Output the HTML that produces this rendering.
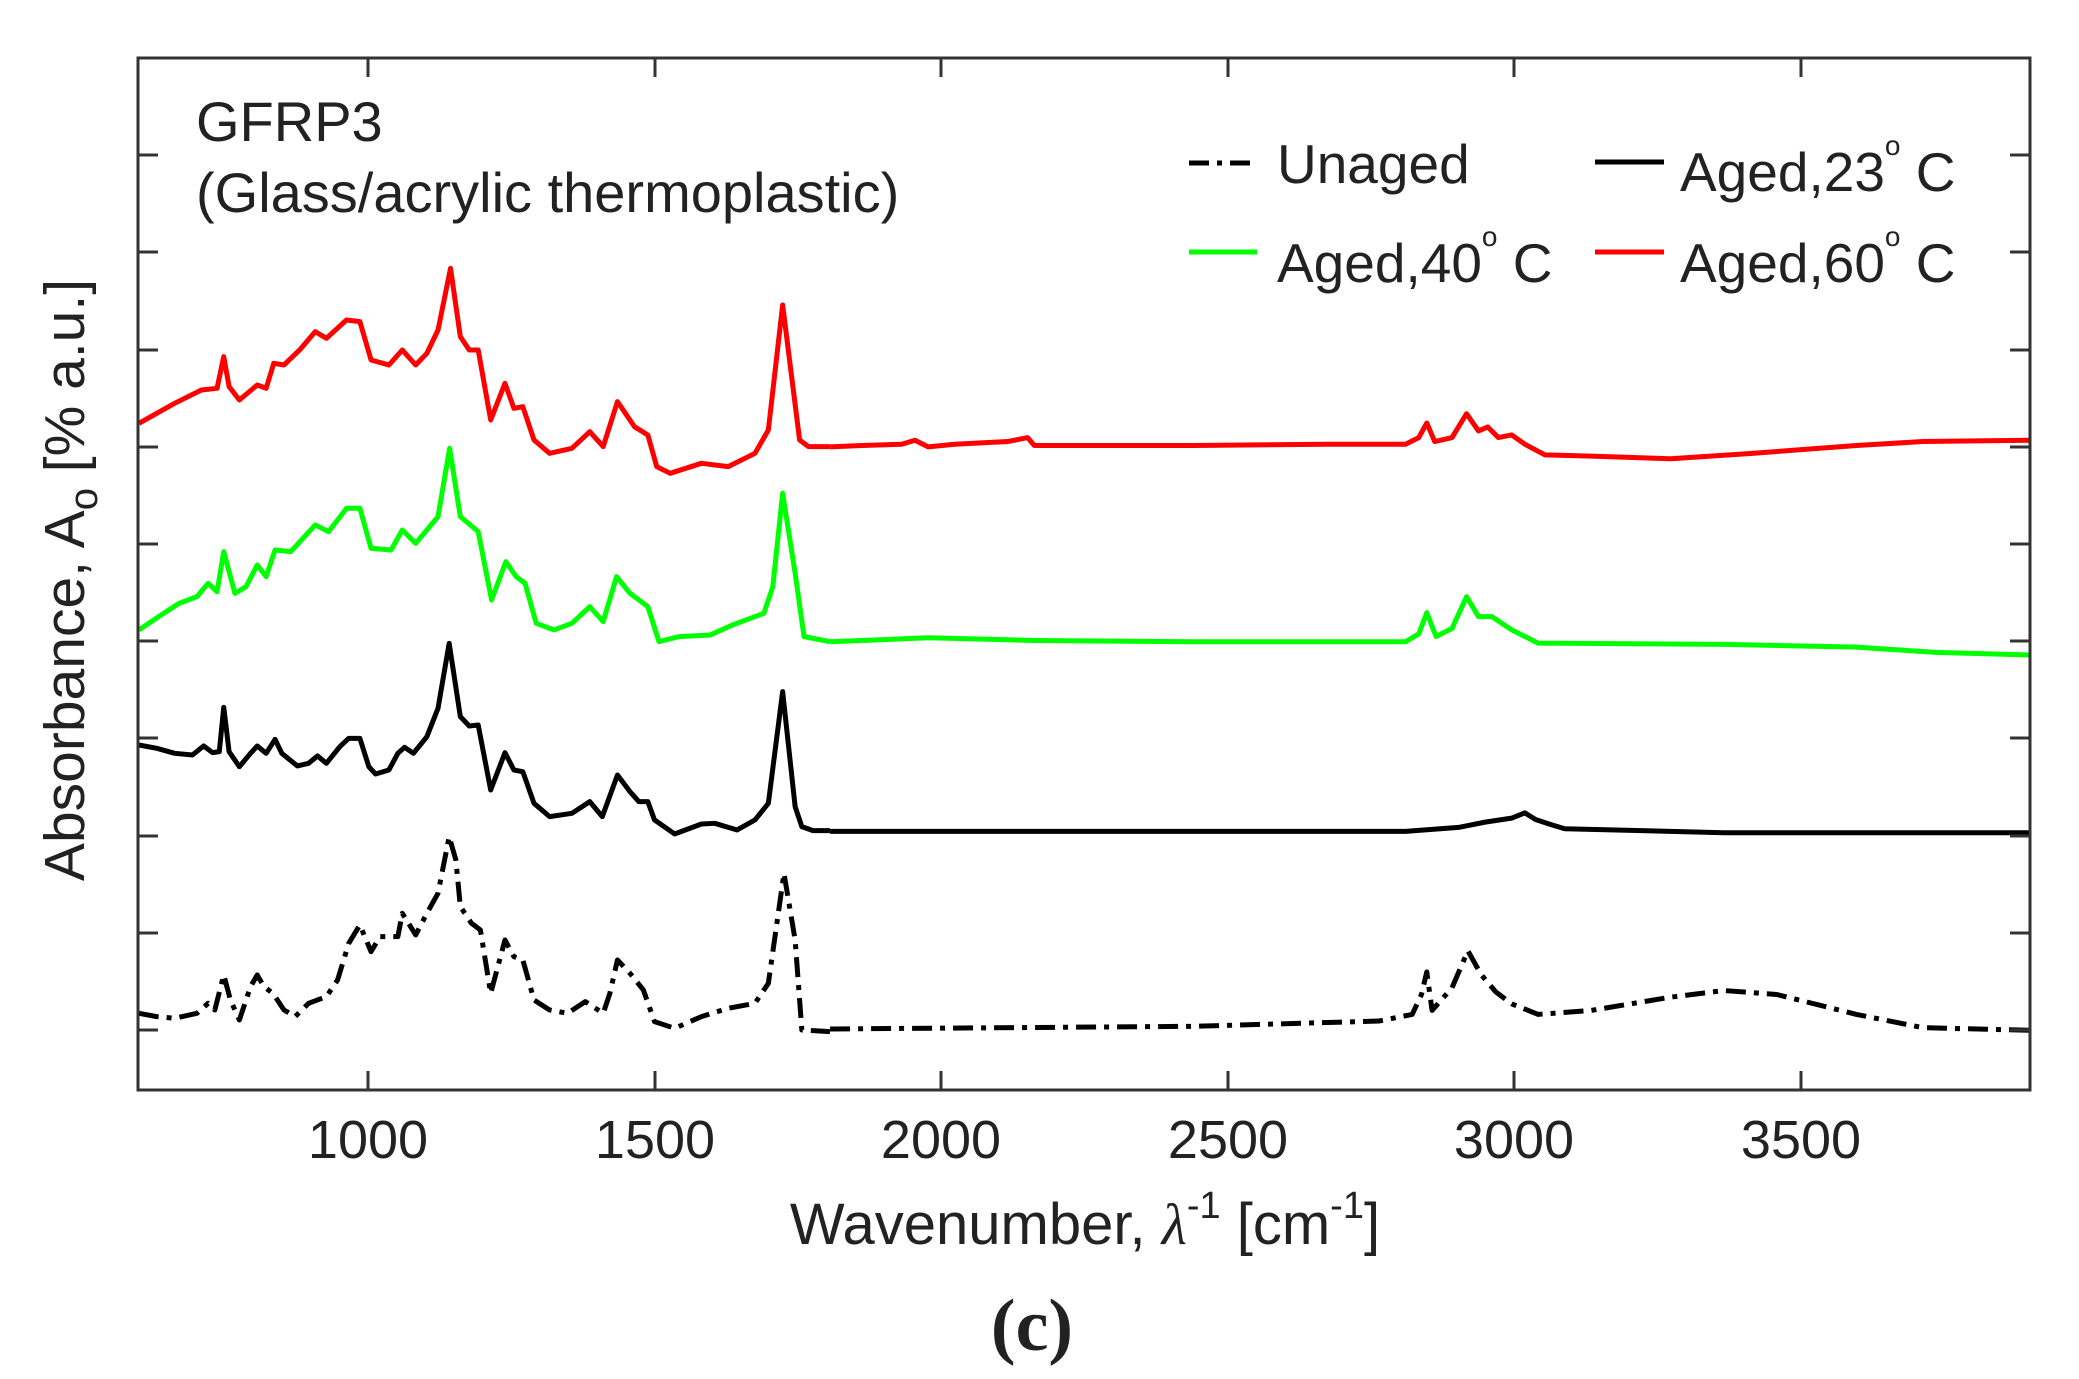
<!DOCTYPE html>
<html><head><meta charset="utf-8"><style>
html,body{margin:0;padding:0;background:#fff;}
svg{display:block;}
text{font-family:"Liberation Sans",Arial,sans-serif;fill:#222;}
</style></head><body>
<svg width="2079" height="1379" viewBox="0 0 2079 1379" xmlns="http://www.w3.org/2000/svg">
<rect width="2079" height="1379" fill="#fff"/>
<g transform="translate(130,240) scale(0.4464,0.3333)" fill="none" stroke-linejoin="round">
<polyline vector-effect="non-scaling-stroke" stroke="#ff0000" stroke-width="5" points="20,550 60,520 100,490 160,450 195,445 210,350 222,440 245,480 285,435 305,445 322,370 345,375 380,330 415,275 440,295 485,240 515,245 540,360 580,375 610,330 640,375 665,340 690,270 718,85 740,290 760,330 780,330 808,540 840,430 860,505 880,500 905,600 940,640 990,625 1030,575 1060,620 1092,485 1130,560 1160,585 1180,680 1210,700 1280,670 1340,680 1400,640 1430,570 1462,195 1500,600 1520,620 1568,620"/>
<polyline vector-effect="non-scaling-stroke" stroke="#00ff00" stroke-width="5" points="20,1170 70,1125 110,1090 150,1070 175,1030 195,1055 210,935 235,1060 260,1040 285,975 305,1010 325,930 360,935 415,855 445,875 485,805 515,805 540,925 585,930 610,870 640,910 690,830 716,625 740,830 780,875 810,1080 842,965 865,1010 885,1030 910,1150 950,1170 990,1150 1030,1100 1060,1145 1090,1010 1120,1060 1160,1100 1185,1205 1230,1190 1300,1185 1350,1155 1420,1120 1440,1040 1462,760 1490,1000 1510,1190 1568,1205"/>
</g>
<g transform="translate(130,620) scale(0.4464,0.3333)" fill="none" stroke-linejoin="round">
<polyline vector-effect="non-scaling-stroke" stroke="#000" stroke-width="5" points="20,375 60,385 100,400 140,405 165,378 185,398 200,395 210,262 222,395 245,440 270,400 285,378 305,400 325,358 340,400 375,438 400,430 420,408 440,430 470,380 490,355 515,355 535,440 550,462 580,450 600,400 615,382 635,400 665,350 690,265 715,70 740,290 760,318 780,315 808,510 840,398 860,450 880,455 905,550 940,590 990,580 1030,545 1058,590 1092,465 1120,515 1140,545 1160,545 1175,600 1220,642 1280,612 1310,610 1360,630 1400,600 1430,550 1462,215 1490,560 1505,620 1530,632 1568,632"/>
<polyline vector-effect="non-scaling-stroke" stroke="#000" stroke-width="5" stroke-dasharray="20 8 5 8" points="20,1180 60,1190 100,1195 150,1180 175,1150 190,1170 210,1065 225,1140 245,1200 270,1100 285,1065 300,1100 320,1120 345,1170 370,1190 400,1150 440,1130 465,1080 490,970 515,915 540,995 560,950 600,950 610,880 640,945 665,880 690,820 715,650 730,720 740,860 765,910 785,930 808,1120 840,960 860,1010 880,1020 905,1140 940,1170 980,1180 1020,1145 1060,1180 1075,1120 1092,1020 1120,1060 1150,1110 1175,1205 1220,1225 1280,1190 1340,1165 1400,1150 1430,1090 1465,760 1490,960 1505,1230 1568,1235"/>
</g>
<g transform="scale(1.326)" fill="none" stroke-linejoin="round">
<polyline vector-effect="non-scaling-stroke" stroke="#ff0000" stroke-width="5" points="626,337 650,336 680,335 690,332 700,337 720,335 760,333 775,330 780,336 800,336 900,336 1000,335 1060,335 1070,330 1076,319 1082,333 1095,330 1106,312 1115,325 1122,322 1130,330 1140,328 1150,335 1165,343 1200,344 1260,346 1320,342 1400,336 1450,333 1531,332"/>
<polyline vector-effect="non-scaling-stroke" stroke="#00ff00" stroke-width="5" points="626,484 700,481 780,483 900,484 1060,484 1070,478 1076,462 1083,480 1095,474 1106,450 1115,465 1125,465 1140,475 1160,485 1300,486 1400,488 1460,492 1531,494"/>
<polyline vector-effect="non-scaling-stroke" stroke="#000" stroke-width="5" points="626,627 700,627 900,627 1060,627 1100,624 1120,620 1140,617 1150,613 1158,618 1170,622 1180,625 1300,628 1531,628"/>
<polyline vector-effect="non-scaling-stroke" stroke="#000" stroke-width="5" stroke-dasharray="20 8 5 8" points="626,776 900,774 1040,770 1065,765 1072,750 1076,733 1080,762 1095,745 1107,717 1117,735 1128,748 1140,757 1160,765 1200,762 1260,752 1300,747 1340,750 1400,765 1450,775 1531,777"/>
</g>
<rect x="138" y="58" width="1892" height="1032" fill="none" stroke="#333" stroke-width="3"/>
<g stroke="#333" stroke-width="3">
<line x1="368" y1="1090" x2="368" y2="1071"/><line x1="655" y1="1090" x2="655" y2="1071"/><line x1="941" y1="1090" x2="941" y2="1071"/><line x1="1228" y1="1090" x2="1228" y2="1071"/><line x1="1514" y1="1090" x2="1514" y2="1071"/><line x1="1801" y1="1090" x2="1801" y2="1071"/>
<line x1="368" y1="58" x2="368" y2="77"/><line x1="655" y1="58" x2="655" y2="77"/><line x1="941" y1="58" x2="941" y2="77"/><line x1="1228" y1="58" x2="1228" y2="77"/><line x1="1514" y1="58" x2="1514" y2="77"/><line x1="1801" y1="58" x2="1801" y2="77"/>
<line x1="138" y1="155" x2="158" y2="155"/><line x1="138" y1="252" x2="158" y2="252"/><line x1="138" y1="350" x2="158" y2="350"/><line x1="138" y1="447" x2="158" y2="447"/><line x1="138" y1="544" x2="158" y2="544"/><line x1="138" y1="641" x2="158" y2="641"/><line x1="138" y1="738" x2="158" y2="738"/><line x1="138" y1="836" x2="158" y2="836"/><line x1="138" y1="933" x2="158" y2="933"/><line x1="138" y1="1030" x2="158" y2="1030"/>
<line x1="2030" y1="155" x2="2010" y2="155"/><line x1="2030" y1="252" x2="2010" y2="252"/><line x1="2030" y1="350" x2="2010" y2="350"/><line x1="2030" y1="447" x2="2010" y2="447"/><line x1="2030" y1="544" x2="2010" y2="544"/><line x1="2030" y1="641" x2="2010" y2="641"/><line x1="2030" y1="738" x2="2010" y2="738"/><line x1="2030" y1="836" x2="2010" y2="836"/><line x1="2030" y1="933" x2="2010" y2="933"/><line x1="2030" y1="1030" x2="2010" y2="1030"/>
</g>
<g font-size="54" text-anchor="middle">
<text x="368" y="1158">1000</text><text x="655" y="1158">1500</text><text x="941" y="1158">2000</text><text x="1228" y="1158">2500</text><text x="1514" y="1158">3000</text><text x="1801" y="1158">3500</text>
</g>
<text x="1085" y="1244" font-size="58" text-anchor="middle">Wavenumber, <tspan font-family="Liberation Serif, serif" font-style="italic">λ</tspan><tspan font-size="38" dy="-26">-1</tspan><tspan dy="26"> [cm</tspan><tspan font-size="38" dy="-26">-1</tspan><tspan dy="26">]</tspan></text>
<text transform="translate(84,580) rotate(-90)" font-size="57" text-anchor="middle">Absorbance, A<tspan font-size="40" dy="13">o</tspan><tspan dy="-13"> [% a.u.]</tspan></text>
<text x="1032" y="1350" font-size="74" font-weight="bold" text-anchor="middle" style="font-family:'Liberation Serif',serif">(c)</text>
<text x="196" y="141" font-size="56">GFRP3</text>
<text x="196" y="212" font-size="56">(Glass/acrylic thermoplastic)</text>
<line x1="1189" y1="163" x2="1257" y2="163" stroke="#000" stroke-width="5" stroke-dasharray="20 8 5 8"/>
<text x="1277" y="183" font-size="55">Unaged</text>
<line x1="1595" y1="162" x2="1664" y2="162" stroke="#000" stroke-width="5"/>
<text x="1680" y="191" font-size="55">Aged,23<tspan font-size="28" dy="-36">o</tspan><tspan dy="36"> C</tspan></text>
<line x1="1189" y1="252" x2="1257" y2="252" stroke="#00ff00" stroke-width="5"/>
<text x="1277" y="282" font-size="55">Aged,40<tspan font-size="28" dy="-36">o</tspan><tspan dy="36"> C</tspan></text>
<line x1="1595" y1="252" x2="1664" y2="252" stroke="#ff0000" stroke-width="5"/>
<text x="1680" y="282" font-size="55">Aged,60<tspan font-size="28" dy="-36">o</tspan><tspan dy="36"> C</tspan></text>
</svg>
</body></html>
